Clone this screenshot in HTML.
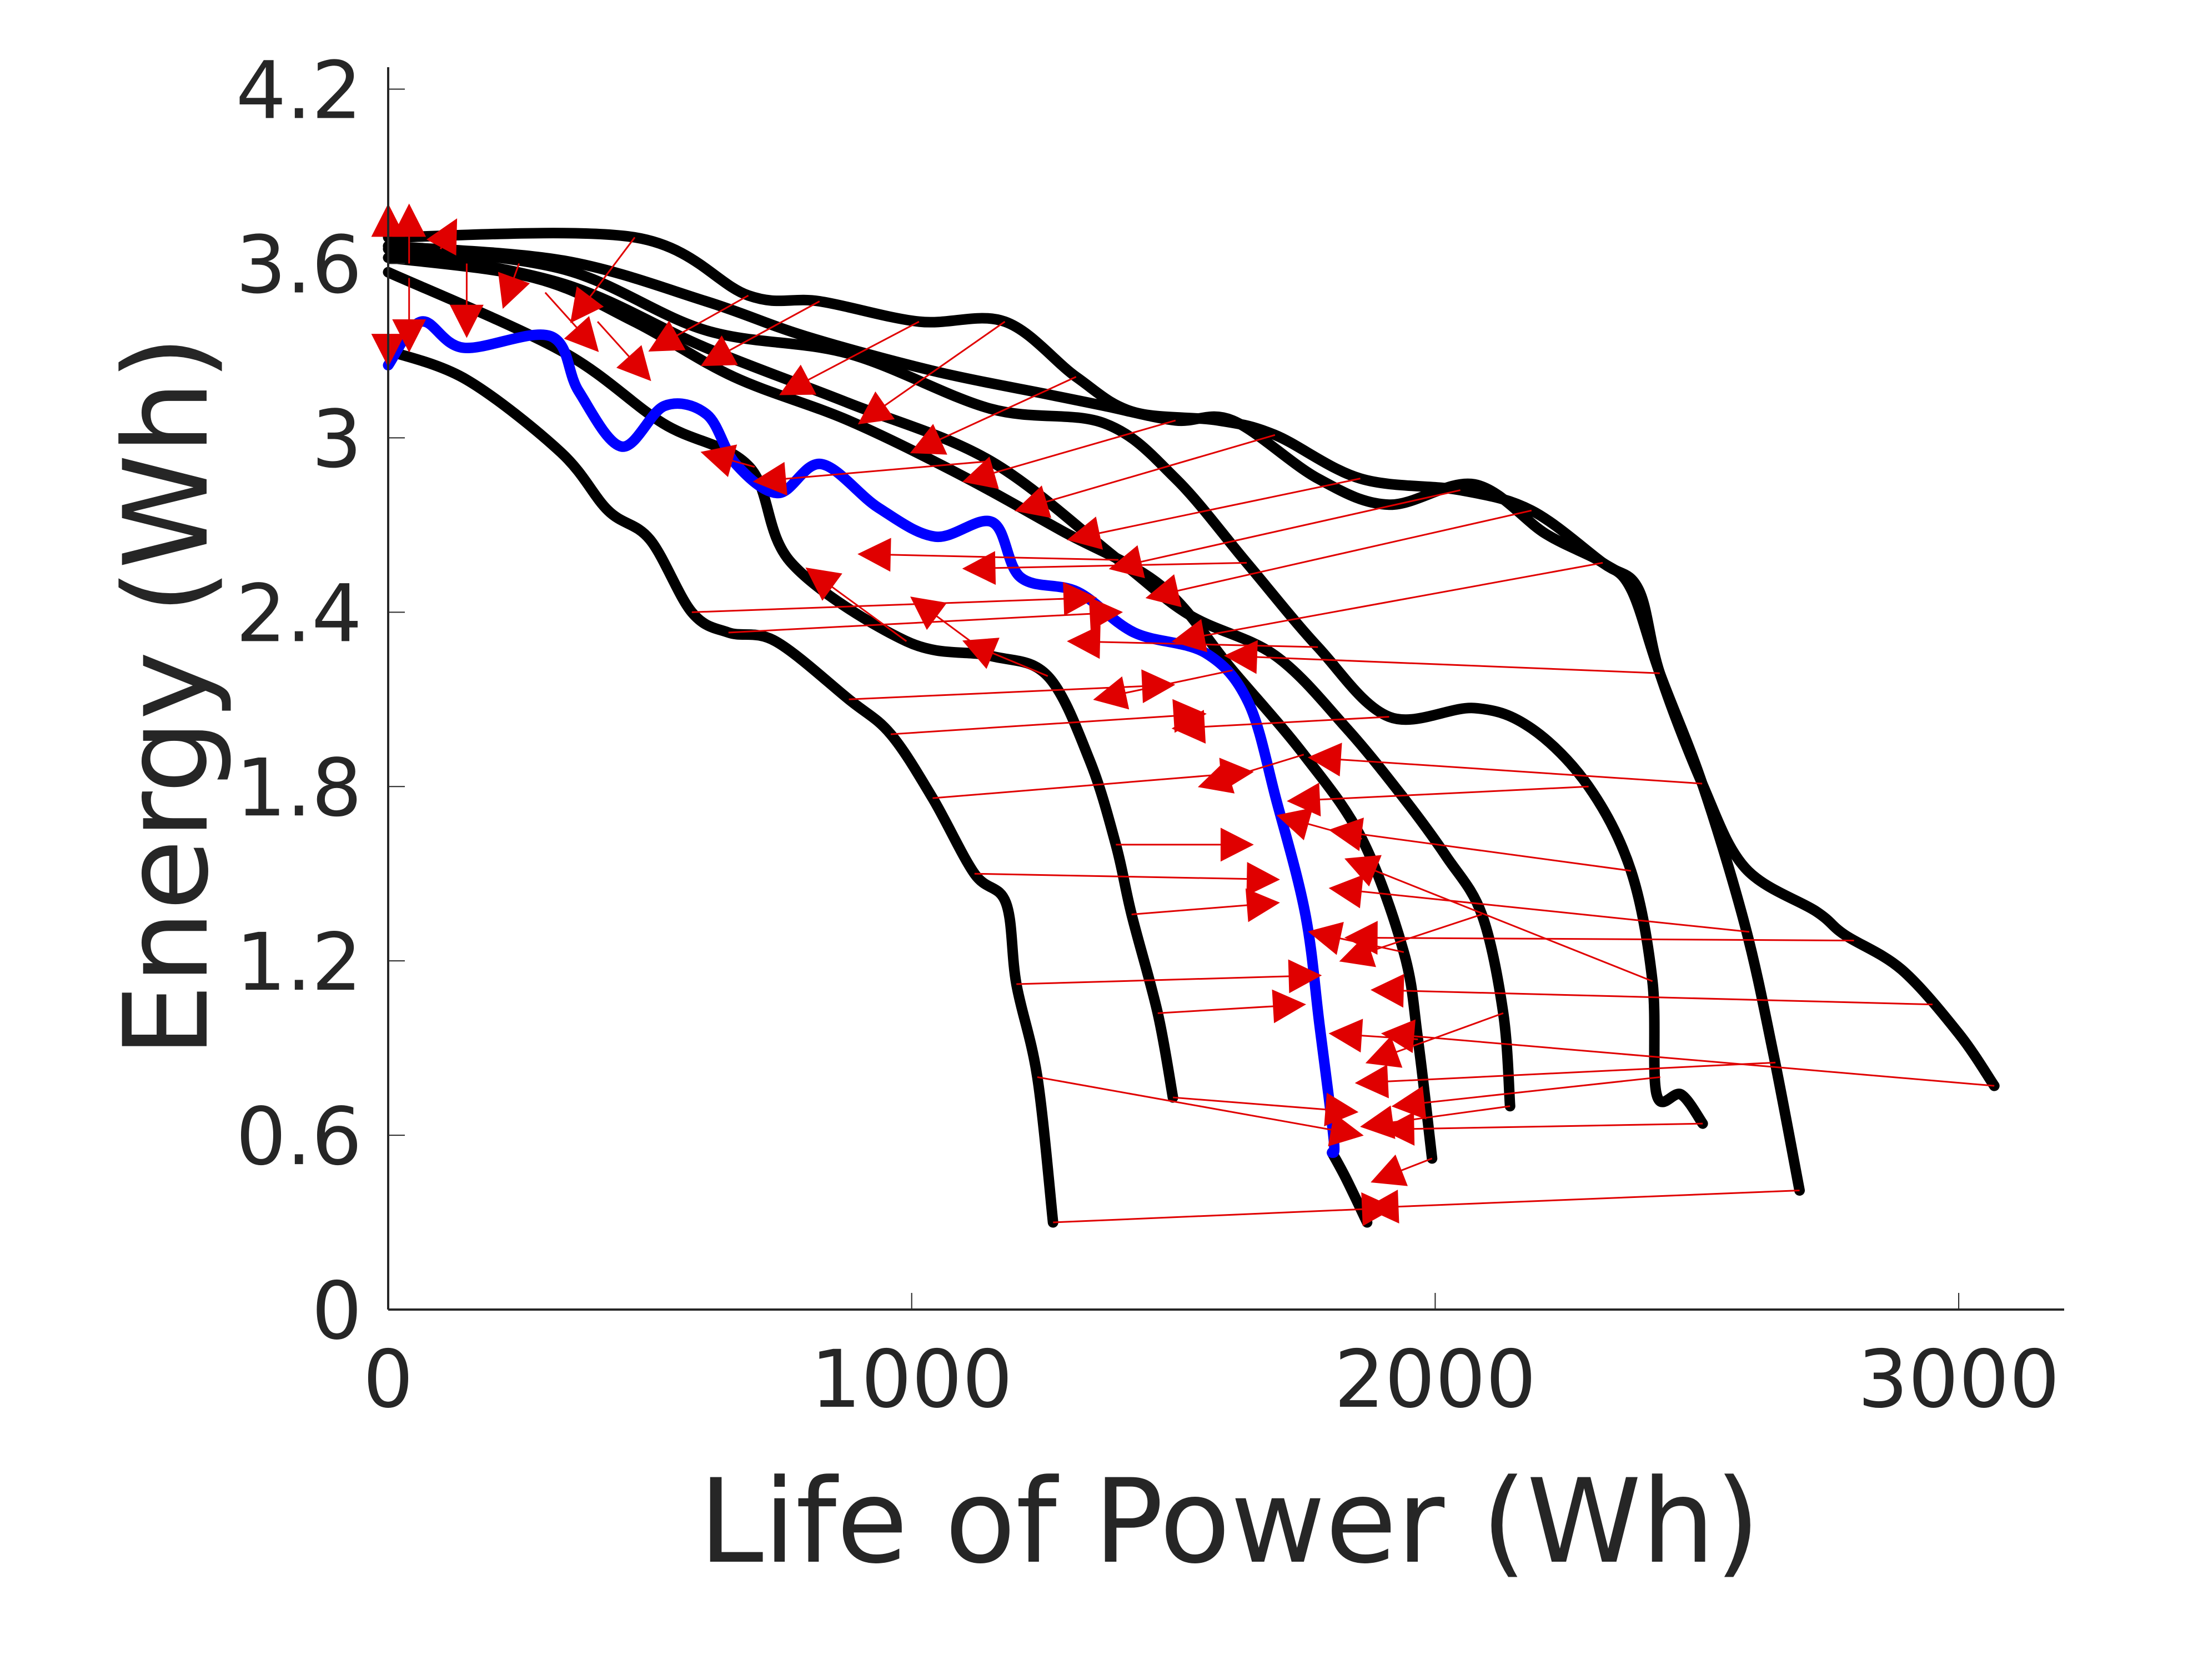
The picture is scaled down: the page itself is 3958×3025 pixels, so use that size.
<!DOCTYPE html>
<html><head><meta charset="utf-8"><style>
html,body{margin:0;padding:0;background:#fff;}
svg{display:block;}
text{font-family:"DejaVu Sans","Liberation Sans",sans-serif;fill:#262626;}
</style></head><body>
<svg id="chart" width="3958" height="3025" viewBox="0 0 3958 3025" xmlns="http://www.w3.org/2000/svg">
<rect width="3958" height="3025" fill="#fff"/>
<g id="marks"></g>
<g id="axes"></g>
<text x="2214" y="2812" font-size="209" text-anchor="middle">Life of Power (Wh)</text>
<text x="0" y="0" font-size="209" text-anchor="middle" transform="translate(372,1254) rotate(-90)">Energy (Wh)</text>
</svg>
<script>
const xTicks=[0,1000,2000,3000];
const xTickLabels=["0","1000","2000","3000"];
const yTicks=[0,0.6,1.2,1.8,2.4,3,3.6,4.2];
const yTickLabels=["0","0.6","1.2","1.8","2.4","3","3.6","4.2"];

const curveAx=[0,150,330,420,500,580,650,740,880,960,1040,1120,1180,1200,1240,1270];
const curveAy=[3.30,3.20,2.95,2.75,2.65,2.40,2.33,2.30,2.10,1.98,1.76,1.50,1.40,1.12,0.80,0.30];
const curveBx=[0,330,525,690,770,990,1150,1260,1340,1390,1420,1470,1499];
const curveBy=[3.57,3.30,3.05,2.90,2.57,2.30,2.25,2.18,1.89,1.60,1.36,1.02,0.73];
const curveDx=[0,280,470,660,879,1096,1287,1477,1613,1749,1860,1940,1967,1994];
const curveDy=[3.62,3.55,3.40,3.21,3.06,2.87,2.68,2.49,2.20,1.91,1.62,1.23,0.93,0.52];
const curveEx=[0,335,607,879,1151,1395,1531,1695,1831,1940,2021,2089,2130,2143];
const curveEy=[3.65,3.53,3.31,3.12,2.92,2.58,2.39,2.25,2.00,1.76,1.56,1.36,1.02,0.70];
const curveFx=[0,335,607,879,1151,1368,1504,1640,1776,1912,2075,2184,2293,2374,2415,2423,2470,2511];
const curveFy=[3.66,3.58,3.37,3.29,3.10,3.05,2.86,2.57,2.28,2.04,2.07,2.00,1.80,1.51,1.13,0.74,0.74,0.64];
const curveGx=[0,335,607,797,1042,1259,1368,1504,1613,1776,1912,2075,2211,2320,2374,2429,2510,2592,2646,2696];
const curveGy=[3.66,3.61,3.47,3.35,3.23,3.15,3.11,3.06,3.06,2.86,2.77,2.84,2.67,2.57,2.48,2.19,1.81,1.32,0.88,0.41];
const curveHx=[0,471,688,824,1014,1178,1314,1422,1585,1694,1857,2048,2184,2320,2388,2429,2510,2592,2728,2782,2891,3000,3068];
const curveHy=[3.69,3.69,3.49,3.47,3.40,3.40,3.21,3.09,3.06,3.01,2.86,2.82,2.75,2.57,2.48,2.19,1.81,1.52,1.37,1.29,1.17,0.95,0.77];
const curveCx=[1803,1830,1870];
const curveCy=[0.54,0.45,0.30];
const blueX=[0,63,144,310,364,446,528,609,664,745,827,936,1045,1154,1208,1317,1425,1561,1643,1697,1752,1779,1806,1803];
const blueY=[3.25,3.40,3.31,3.35,3.16,2.97,3.11,3.08,2.91,2.81,2.91,2.76,2.66,2.71,2.52,2.47,2.33,2.26,2.09,1.75,1.36,0.98,0.59,0.54];

const arrowX0=[3068,2950,2800,2696,2650,2600,2511,2430,2415,2374,2293,2510,2143,2130,2089,1994,1967,1940,1860,1499,1270,1240,1200,1120,1040,960,880,650,580,2429,2320,2184,2048,1857,1694,1504,1314,1178,1014,824,688,471,1151,1395,1640,1776,1912,1613,1749,0,0,40,40,100,150,250,300,400,700,990,1150,1260,1390,1420,1470];
const arrowY0=[0.77,1.05,1.27,0.41,0.85,1.30,0.64,0.80,1.13,1.51,1.80,1.81,0.70,1.02,1.36,0.52,0.93,1.23,1.62,0.73,0.30,0.80,1.12,1.50,1.76,1.98,2.10,2.33,2.40,2.19,2.57,2.75,2.82,2.86,3.01,3.06,3.21,3.40,3.40,3.47,3.49,3.69,2.92,2.58,2.57,2.28,2.04,2.20,1.91,3.62,3.55,3.60,3.55,3.65,3.60,3.60,3.50,3.40,2.90,2.30,2.25,2.18,1.60,1.36,1.02];
const arrowX1=[1900,1880,1830,1870,1850,1800,1900,1920,1830,1800,1720,1760,1860,1870,1820,1880,1800,1760,1700,1850,1920,1860,1780,1700,1650,1560,1500,1400,1350,1600,1500,1450,1380,1300,1200,1100,1000,900,750,600,500,350,700,900,1100,1300,1500,1350,1550,0,0,40,40,130,150,220,400,500,600,800,1000,1100,1650,1700,1750];
const arrowY1=[0.95,1.10,1.28,0.35,0.78,1.45,0.62,0.70,1.55,1.65,1.75,1.90,0.63,0.85,1.20,0.44,0.95,1.30,1.70,0.68,0.35,0.60,1.15,1.48,1.85,2.05,2.15,2.40,2.45,2.25,2.30,2.45,2.55,2.65,2.75,2.85,2.95,3.05,3.15,3.25,3.30,3.40,2.85,2.60,2.55,2.30,2.00,2.10,1.80,3.80,3.25,3.80,3.30,3.75,3.35,3.45,3.30,3.20,2.95,2.55,2.45,2.30,1.60,1.40,1.05];

const X0=699, XS=0.9427, Y0=2358, YS=523.2;
function sx(v){return X0+v*XS;}
function sy(v){return Y0-v*YS;}
const NS="http://www.w3.org/2000/svg";
const marks=document.getElementById('marks');
const axes=document.getElementById('axes');
function mk(tag,attrs,parent){const e=document.createElementNS(NS,tag);for(const k in attrs)e.setAttribute(k,attrs[k]);parent.appendChild(e);return e;}

let ax=mk('line',{x1:X0,y1:Y0,x2:3717,y2:Y0,stroke:'#262626','stroke-width':4},axes);


let ay=mk('line',{x1:X0,y1:Y0,x2:X0,y2:121,stroke:'#262626','stroke-width':4},axes);


xTicks.forEach((t,i)=>{
  const tk=mk('line',{x1:sx(t),y1:Y0,x2:sx(t),y2:Y0-30,stroke:'#262626','stroke-width':2},axes);
  
  
  const tx=mk('text',{x:sx(t),y:2533,'font-size':143,'text-anchor':'middle'},axes);
  tx.textContent=xTickLabels[i];
  
  
});
yTicks.forEach((t,i)=>{
  const tk=mk('line',{x1:X0,y1:sy(t),x2:X0+30,y2:sy(t),stroke:'#262626','stroke-width':2},axes);
  
  
  const tx=mk('text',{x:652,y:sy(t)+52,'font-size':143,'text-anchor':'end'},axes);
  tx.textContent=yTickLabels[i];
  
  
});

function smoothPath(xs,ys){
  const P=xs.map((x,i)=>[sx(x),sy(ys[i])]);
  let d='M'+P[0][0]+','+P[0][1];
  for(let i=0;i<P.length-1;i++){
    const p0=P[i-1]||P[i],p1=P[i],p2=P[i+1],p3=P[i+2]||p2;
    const c1x=p1[0]+(p2[0]-p0[0])/6,c1y=p1[1]+(p2[1]-p0[1])/6;
    const c2x=p2[0]-(p3[0]-p1[0])/6,c2y=p2[1]-(p3[1]-p1[1])/6;
    d+=` C${c1x},${c1y} ${c2x},${c2y} ${p2[0]},${p2[1]}`;
  }
  return d;
}
function poly(xs,ys,color,name){
  const p=mk('path',{d:smoothPath(xs,ys),fill:'none',stroke:color,'stroke-width':19,'stroke-linejoin':'round','stroke-linecap':'round'},marks);
  
  
}
poly(curveAx,curveAy,'#000','black-curve-a');
poly(curveBx,curveBy,'#000','black-curve-b');
poly(curveDx,curveDy,'#000','black-curve-d');
poly(curveEx,curveEy,'#000','black-curve-e');
poly(curveFx,curveFy,'#000','black-curve-f');
poly(curveGx,curveGy,'#000','black-curve-g');
poly(curveHx,curveHy,'#000','black-curve-h');
poly(curveCx,curveCy,'#000','black-curve-c');
poly(blueX,blueY,'#0000ff','blue-curve');

arrowX0.forEach((v,i)=>{
  const x1=sx(v),y1=sy(arrowY0[i]),x2=sx(arrowX1[i]),y2=sy(arrowY1[i]);
  const g=mk('g',{},marks);
  
  
  mk('line',{x1:x1,y1:y1,x2:x2,y2:y2,stroke:'#e00000','stroke-width':3},g);
  const dx=x2-x1,dy=y2-y1,L=Math.hypot(dx,dy)||1,ux=dx/L,uy=dy/L;
  const hl=55,hw=28;
  const bx=x2-ux*hl,by=y2-uy*hl;
  mk('polygon',{points:`${x2},${y2} ${bx-uy*hw},${by+ux*hw} ${bx+uy*hw},${by-ux*hw}`,fill:'#e00000',stroke:'#e00000','stroke-width':3},g);
});
</script>
</body></html>
